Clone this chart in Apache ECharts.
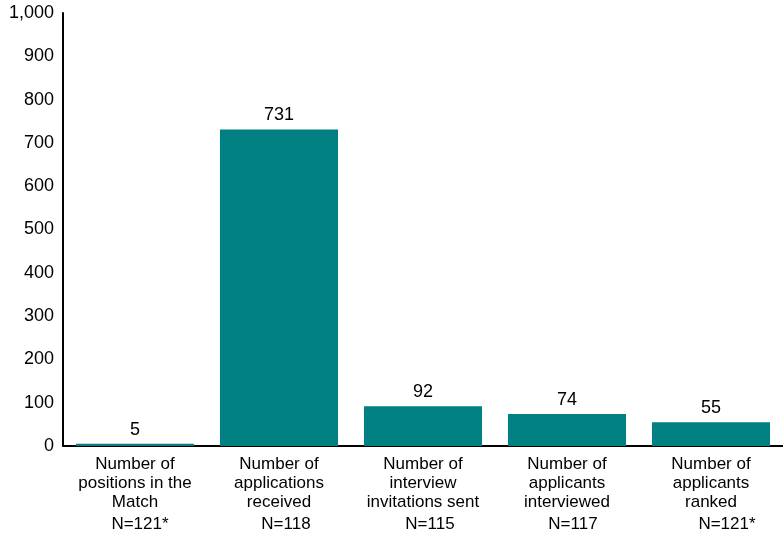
<!DOCTYPE html>
<html><head><meta charset="utf-8">
<script src="https://cdn.jsdelivr.net/npm/echarts@6/dist/echarts.min.js"></script>
<style>html,body{margin:0;padding:0;background:#fff}#c{width:783px;height:540px}</style>
</head><body><div id="c"></div>
<script>
const categories = [
  "Number of\npositions in the\nMatch",
  "Number of\napplications\nreceived",
  "Number of\ninterview\ninvitations sent",
  "Number of\napplicants\ninterviewed",
  "Number of\napplicants\nranked"
];
const nLabels = ["N=121*", "N=118", "N=115", "N=117", "N=121*"];
const values = [5, 731, 92, 74, 55];
const yTicks = [0, 100, 200, 300, 400, 500, 600, 700, 800, 900, 1000];

const chart = echarts.init(document.getElementById('c'));
const font = 'Arial, "Liberation Sans", sans-serif';
const nShift = [10, 14, 14, 12, 32];
const rich = {};
nShift.forEach(function (p, i) {
  rich['n' + i] = { fontFamily: font, fontSize: 17, color: '#000', lineHeight: 25, padding: [0, 0, 0, p] };
});
chart.setOption({
  animation: false,
  grid: { left: 63, right: -4, top: 13, bottom: 94, containLabel: false },
  xAxis: {
    type: 'category',
    data: categories,
    axisLine: { lineStyle: { color: '#000', width: 2 } },
    axisTick: { show: false },
    axisLabel: {
      interval: 0,
      margin: 9,
      fontFamily: font,
      fontSize: 17,
      color: '#000',
      lineHeight: 19,
      formatter: function (v, i) {
        return v + '\n{n' + i + '|' + nLabels[i] + '}';
      },
      rich: rich
    }
  },
  yAxis: {
    type: 'value',
    min: 0, max: 1000, interval: 100,
    axisLine: { show: true, lineStyle: { color: '#000', width: 2 } },
    axisTick: { show: false },
    splitLine: { show: false },
    axisLabel: {
      fontFamily: font, fontSize: 18, color: '#000', margin: 9,
      formatter: function (v) { return yTicks.indexOf(v) >= 0 ? v.toLocaleString('en-US') : ''; }
    }
  },
  series: [{
    type: 'bar',
    data: values,
    barCategoryGap: '18%',
    itemStyle: { color: '#008080' },
    label: {
      show: true, position: 'top', distance: 5,
      fontFamily: font, fontSize: 18, color: '#000'
    }
  }]
});
</script></body></html>
